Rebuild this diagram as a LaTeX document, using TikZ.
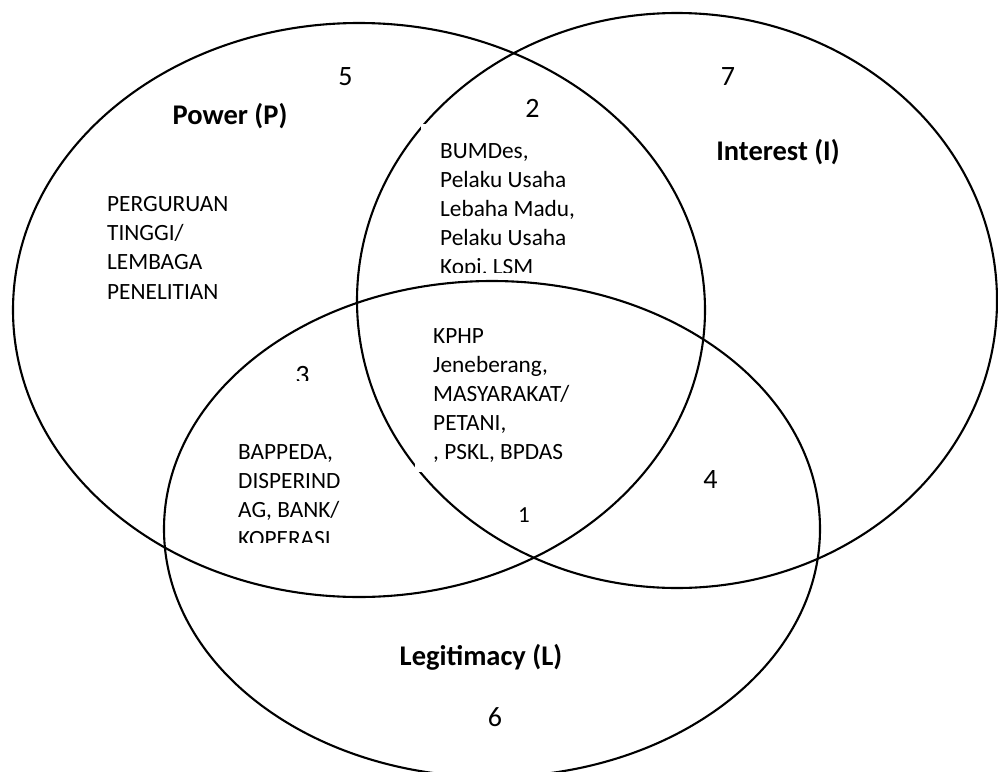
\documentclass[tikz,border=0pt]{standalone}
\usepackage{fontspec}
\setmainfont{Carlito}
\begin{document}
\begin{tikzpicture}[x=1pt,y=-1pt,
  setline/.style={line width=2.1pt},
  body/.style={font=\fontsize{23.3}{29.2}\selectfont, inner sep=0pt, anchor=base west},
  title/.style={font=\fontsize{28.5}{34}\selectfont\bfseries, inner sep=0pt},
  zone/.style={font=\fontsize{28}{34}\selectfont, inner sep=0pt},
  blank/.style={fill=white, draw=none}]
\useasboundingbox (0,0) rectangle (998,771);
\clip (0,0) rectangle (998,771);

% the three stakeholder sets
\coordinate (cP) at (359,310);
\coordinate (cI) at (677,300.5);
\coordinate (cL) at (492,529);
\draw[setline] (cP) ellipse [x radius=346, y radius=287];
\draw[setline] (cI) ellipse [x radius=320, y radius=287.5];
\draw[setline] (cL) ellipse [x radius=328, y radius=248];

% set titles
\node[title] (tP) at (230,116) {Power (P)};
\node[title] (tI) at (778,152) {Interest (I)};
\node[title] (tL) at (481,657) {Legitimacy (L)};

% zone numbers
\node[zone] (z5) at (345.5,77) {5};
\node[zone] (z2) at (532.5,108.5) {2};
\node[zone] (z7) at (728,76.5) {7};
\node[zone] (z4) at (710.5,479.5) {4};
\node[zone] (z6) at (495,717.5) {6};
\node[font=\fontsize{23}{29.2}\selectfont, inner sep=0pt] (z1) at (524,515) {1};
\begin{scope}
  \clip (250,340) rectangle (360,380);
  \node[zone] (z3) at (302.5,376) {3};
\end{scope}

% text boxes
\begin{scope}
  \clip (100,180) rectangle (300,299);
  \node[body] (bP) at (107,211.5) {\begin{tabular}[t]{@{}l@{}}PERGURUAN\\TINGGI/\\LEMBAGA\\PENELITIAN\end{tabular}};
\end{scope}

\fill[blank] (421,124) rectangle (600,272);
\begin{scope}
  \clip (421,124) rectangle (600,272);
  \node[body] (bPI) at (440,158) {\begin{tabular}[t]{@{}l@{}}BUMDes,\\Pelaku Usaha\\Lebaha Madu,\\Pelaku Usaha\\Kopi, LSM\end{tabular}};
\end{scope}

\fill[blank] (415,310) rectangle (600,472);
\begin{scope}
  \clip (415,310) rectangle (600,472);
  \node[body] (bPIL) at (433,343) {\begin{tabular}[t]{@{}l@{}}KPHP\\Jeneberang,\\MASYARAKAT/\\PETANI,\\, PSKL, BPDAS\end{tabular}};
\end{scope}

\begin{scope}
  \clip (230,430) rectangle (400,542);
  \node[body] (bPL) at (238,459) {\begin{tabular}[t]{@{}l@{}}BAPPEDA,\\DISPERIND\\AG, BANK/\\KOPERASI\end{tabular}};
\end{scope}
\end{tikzpicture}
\end{document}
